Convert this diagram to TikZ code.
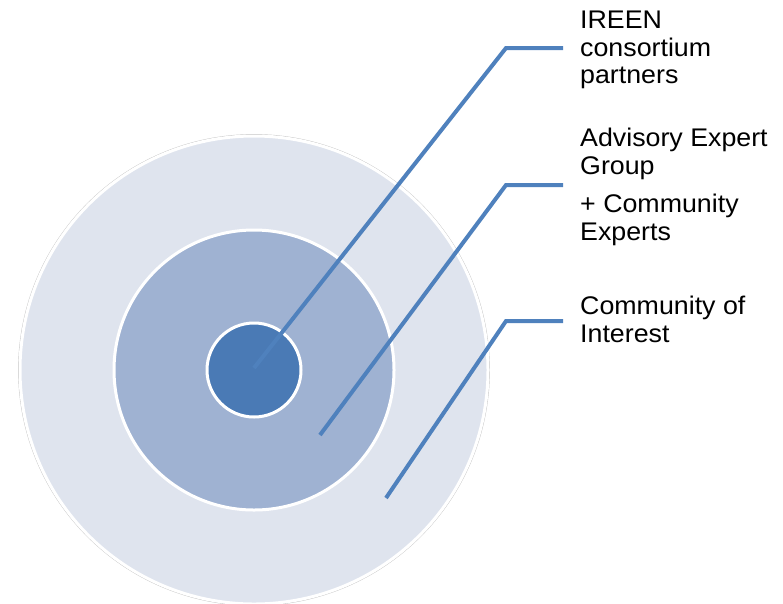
\documentclass[tikz,border=0pt]{standalone}
\usepackage{fontspec}
\setmainfont[FakeStretch=1.05]{Liberation Sans}
\definecolor{ringout}{HTML}{DFE4EE}
\definecolor{ringmid}{HTML}{9FB2D2}
\definecolor{core}{HTML}{4A7AB5}
\definecolor{leader}{HTML}{4F81BD}
\begin{document}
\begin{tikzpicture}[x=1pt,y=-1pt,
  ring/.style={circle,draw=white,line width=3pt,inner sep=0pt},
  leaderline/.style={draw=leader,line width=4pt,line join=miter},
  label/.style={anchor=north west,inner sep=0pt,align=left,
    font=\fontsize{25.5}{27.5}\selectfont}]
\useasboundingbox (0,0) rectangle (783,603);
% concentric rings
\draw[gray!45,line width=0.8pt] (254,370) circle (235.5);
\node[ring,fill=ringout,minimum size=468pt] (outer) at (254,370) {};
\node[ring,fill=ringmid,minimum size=280pt] (middle) at (254,370) {};
\node[ring,fill=core,minimum size=94pt] (inner) at (254,370) {};
% leader line end points
\coordinate (p1) at (254,368);
\coordinate (k1) at (506,48);
\coordinate (e1) at (563,48);
\coordinate (p2) at (320,435);
\coordinate (k2) at (506,185);
\coordinate (e2) at (563,185);
\coordinate (p3) at (386,498);
\coordinate (k3) at (506,321);
\coordinate (e3) at (563,321);
\draw[leaderline] (p1) -- (k1) -- (e1);
\draw[leaderline] (p2) -- (k2) -- (e2);
\draw[leaderline] (p3) -- (k3) -- (e3);
% labels
\node[label] (t1) at (580,11) {IREEN\\consortium\\partners};
\node[label] (t2) at (580,128) {Advisory Expert\\Group};
\node[label] (t3) at (580,194) {+ Community\\Experts};
\node[label] (t4) at (580,296) {Community of\\Interest};
\end{tikzpicture}
\end{document}
